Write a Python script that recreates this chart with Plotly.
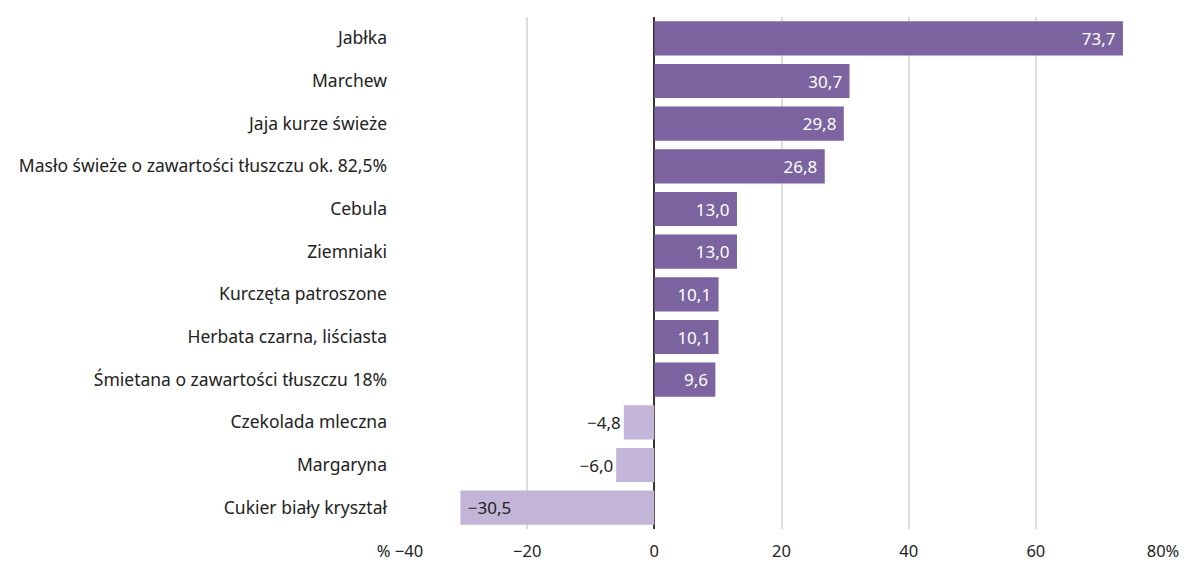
import plotly.graph_objects as go

categories = ["Jabłka", "Marchew", "Jaja kurze świeże",
              "Masło świeże o zawartości tłuszczu ok. 82,5%", "Cebula", "Ziemniaki",
              "Kurczęta patroszone", "Herbata czarna, liściasta",
              "Śmietana o zawartości tłuszczu 18%", "Czekolada mleczna", "Margaryna",
              "Cukier biały kryształ"]
values = [73.7, 30.7, 29.8, 26.8, 13.0, 13.0, 10.1, 10.1, 9.6, -4.8, -6.0, -30.5]
tick_vals = [-40, -20, 0, 20, 40, 60, 80]
tick_text = ["% −40", "−20", "0", "20", "40", "60", "80%"]

DARK = "#7b64a0"
LIGHT = "#c2b5d8"
FONT = "Noto Sans, sans-serif"

labels = []
positions = []
for v in values:
    s = f"{v:.1f}".replace(".", ",").replace("-", "−")
    if v >= 0:
        labels.append(s + "\u00a0")
        positions.append("inside")
    elif v < -15:
        labels.append("\u00a0" + s)
        positions.append("inside")
    else:
        labels.append(s)
        positions.append("outside")
colors = [DARK if v >= 0 else LIGHT for v in values]
text_colors = ["white" if v >= 0 else "#222222" for v in values]

fig = go.Figure(go.Bar(
    y=categories, x=values, orientation="h",
    marker=dict(color=colors, line=dict(width=0)),
    text=labels, textposition=positions, insidetextanchor="end",
    textfont=dict(family=FONT, size=17, color=text_colors),
    outsidetextfont=dict(family=FONT, size=17, color="#222222"),
    width=0.8, cliponaxis=False, hoverinfo="skip",
))

fig.update_layout(
    width=1184, height=556,
    margin=dict(l=392, r=29, t=9, b=35),
    paper_bgcolor="white", plot_bgcolor="white",
    showlegend=False,
    font=dict(family=FONT, size=17, color="#222222"),
)
fig.update_xaxes(
    range=[-40, 80], tickvals=tick_vals, ticktext=tick_text,
    showgrid=True, gridcolor="#dddddd", gridwidth=1.5,
    zeroline=True, zerolinecolor="#333333", zerolinewidth=1.5,
    showline=False, ticks="", ticklabelstandoff=10, automargin=False,
    tickfont=dict(size=16.5, color="#222222"),
    fixedrange=True,
)
fig.update_yaxes(
    autorange="reversed", categoryorder="array", categoryarray=categories,
    showgrid=False, zeroline=False, showline=False, ticks="",
    ticklabelstandoff=12, automargin=False,
    tickfont=dict(size=17.5, color="#222222"),
    fixedrange=True,
)

fig.write_html("out.html")
